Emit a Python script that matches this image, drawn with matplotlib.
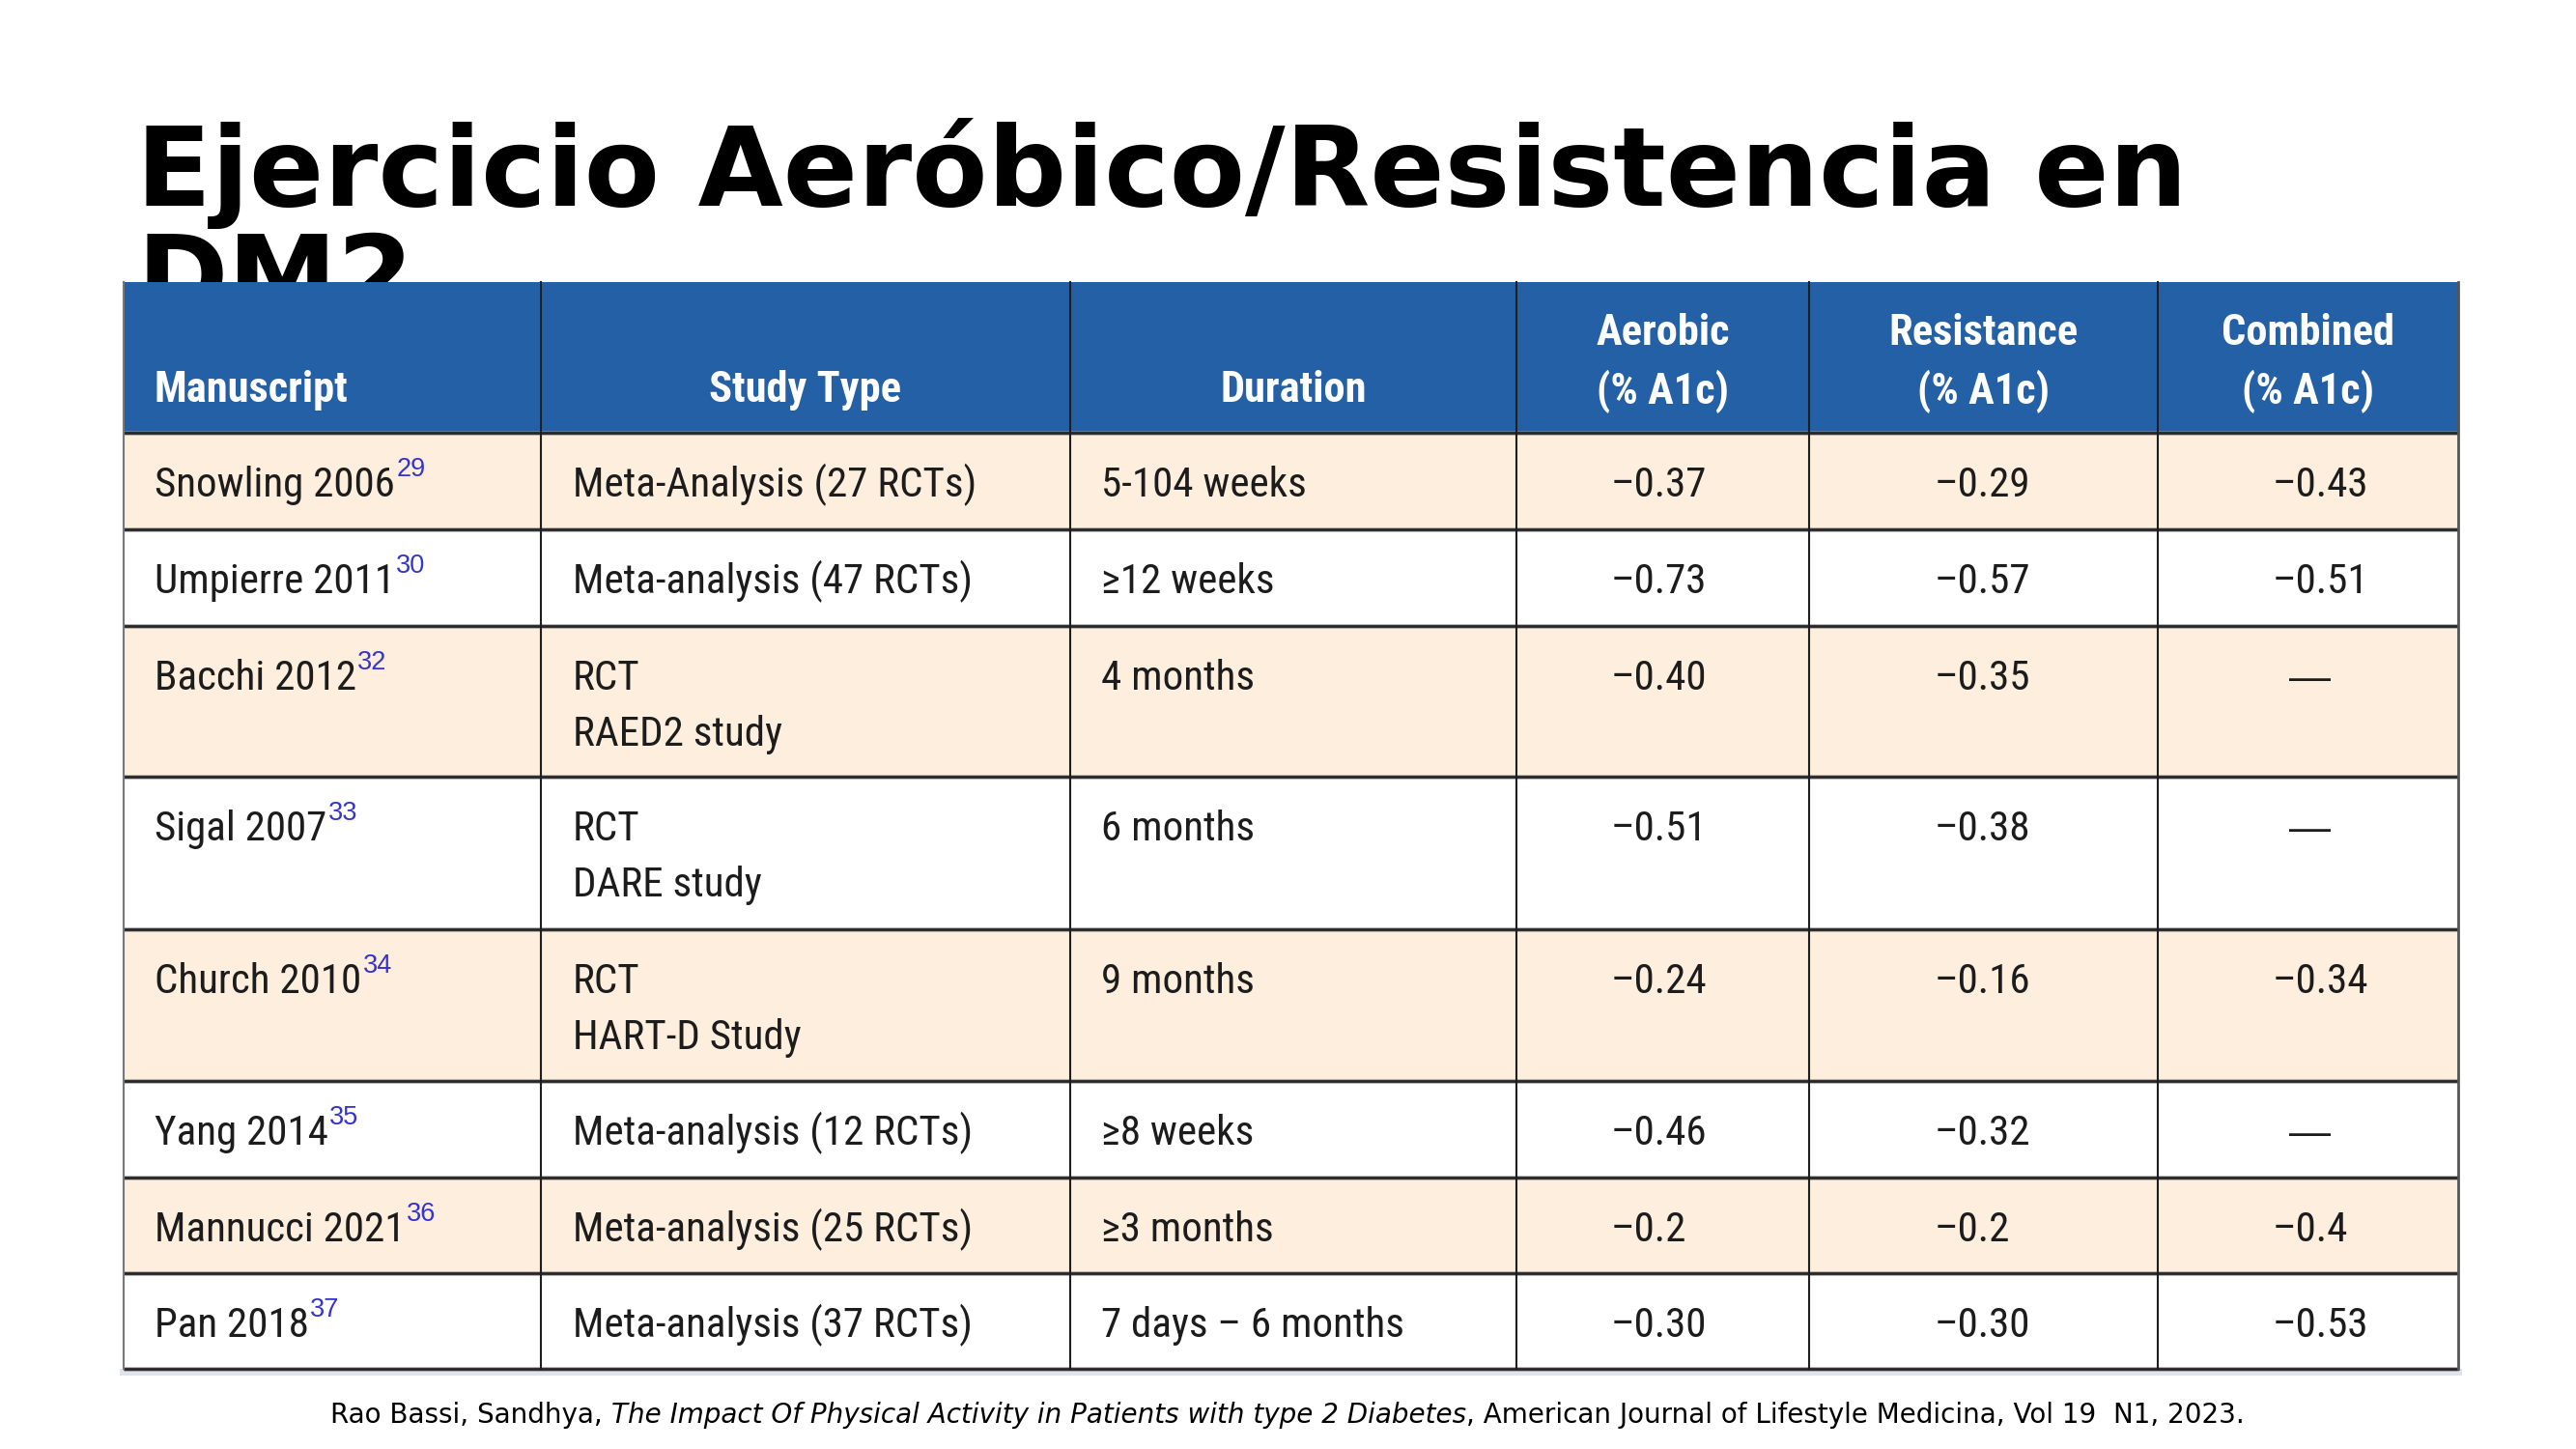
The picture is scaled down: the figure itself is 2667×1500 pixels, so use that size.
import matplotlib
matplotlib.use('Agg')
import matplotlib.pyplot as plt
from matplotlib.patches import Rectangle

# ---- table content ----
headers = ["Manuscript", "Study Type", "Duration",
           "Aerobic\n(% A1c)", "Resistance\n(% A1c)", "Combined\n(% A1c)"]
manuscripts = ["Snowling 2006", "Umpierre 2011", "Bacchi 2012", "Sigal 2007",
               "Church 2010", "Yang 2014", "Mannucci 2021", "Pan 2018"]
refs = ["29", "30", "32", "33", "34", "35", "36", "37"]
study_types = ["Meta-Analysis (27 RCTs)", "Meta-analysis (47 RCTs)",
               "RCT\nRAED2 study", "RCT\nDARE study", "RCT\nHART-D Study",
               "Meta-analysis (12 RCTs)", "Meta-analysis (25 RCTs)",
               "Meta-analysis (37 RCTs)"]
durations = ["5-104 weeks", "\u226512 weeks", "4 months", "6 months",
             "9 months", "\u22658 weeks", "\u22653 months",
             "7 days \u2013 6 months"]
# the source table prints its minus signs as en dashes
aerobic = ["\u20130.37", "\u20130.73", "\u20130.40", "\u20130.51",
           "\u20130.24", "\u20130.46", "\u20130.2", "\u20130.30"]
resistance = ["\u20130.29", "\u20130.57", "\u20130.35", "\u20130.38",
              "\u20130.16", "\u20130.32", "\u20130.2", "\u20130.30"]
combined = ["\u20130.43", "\u20130.51", "\u2014", "\u2014",
            "\u20130.34", "\u2014", "\u20130.4", "\u20130.53"]

title_lines = ["Ejercicio Aeróbico/Resistencia en", "DM2"]
cite_parts = ["Rao Bassi, Sandhya, ",
              "The Impact Of Physical Activity in Patients with type 2 Diabetes",
              ", American Journal of Lifestyle Medicina, Vol 19  N1, 2023."]

# ---- layout (pixels) ----
col_edges = [128, 560, 1108, 1570, 1873, 2234, 2545]
row_edges = [292, 448, 548, 648, 804, 962, 1119, 1219, 1318, 1417]
HEADER_BLUE = '#2360a6'
BEIGE = '#fdeedd'
TEXT = '#1c1c1c'
SUP = '#3535cc'
body_font = ['Roboto Condensed', 'Archivo Narrow', 'IBM Plex Sans Condensed',
             'Liberation Sans']
plain_font = ['Liberation Sans', 'DejaVu Sans']

fig = plt.figure(figsize=(26.67, 15), dpi=100)
ax = fig.add_axes([0, 0, 1, 1])
ax.set_xlim(0, 2667)
ax.set_ylim(1500, 0)
ax.axis('off')

# title (sits behind the table, second line gets covered)
ax.text(141, 213, title_lines[0], fontsize=82, fontweight='bold',
        family='DejaVu Sans', va='baseline', ha='left', zorder=1)
ax.text(141, 325, title_lines[1], fontsize=82, fontweight='bold',
        family='DejaVu Sans', va='baseline', ha='left', zorder=1)

left, right = col_edges[0], col_edges[-1]
top, bottom = row_edges[0], row_edges[-1]

# soft shadow under the table
ax.add_patch(Rectangle((left - 4, bottom), right - left + 8, 7,
                       facecolor='#dfe4ee', edgecolor='none', zorder=2))

# header band
ax.add_patch(Rectangle((left, top), right - left, row_edges[1] - top,
                       facecolor=HEADER_BLUE, edgecolor='none', zorder=3))
# body rows
for i in range(len(manuscripts)):
    y0, y1 = row_edges[i + 1], row_edges[i + 2]
    fc = BEIGE if i % 2 == 0 else 'white'
    ax.add_patch(Rectangle((left, y0), right - left, y1 - y0,
                           facecolor=fc, edgecolor='none', zorder=3))

# grid lines
for y in row_edges[1:]:
    ax.plot([left, right], [y, y], color='#8a8a8a', lw=3.6, alpha=0.6,
            solid_capstyle='butt', zorder=4)
    ax.plot([left, right], [y, y], color='#262626', lw=2.0,
            solid_capstyle='butt', zorder=5)
for x in col_edges[1:-1]:
    ax.plot([x, x], [top, bottom], color='#1e1e1e', lw=1.5, zorder=5)
ax.plot([left, left], [top, bottom], color='#777777', lw=1.5, zorder=5)
ax.plot([right, right], [top, bottom], color='#555555', lw=2.0, zorder=5)

# header text
hdr_kw = dict(fontsize=32, fontweight='bold', color='white',
              family=body_font, va='baseline', zorder=6)
ax.text(160, 416, headers[0], ha='left', **hdr_kw)
for j in (1, 2):
    cx = (col_edges[j] + col_edges[j + 1]) / 2
    ax.text(cx, 416, headers[j], ha='center', **hdr_kw)
for j in (3, 4, 5):
    cx = (col_edges[j] + col_edges[j + 1]) / 2
    l1, l2 = headers[j].split('\n')
    ax.text(cx, 357, l1, ha='center', **hdr_kw)
    ax.text(cx, 418, l2, ha='center', **hdr_kw)

# body text
body_kw = dict(fontsize=31, color=TEXT, family=body_font,
               va='baseline', zorder=6)
num_left = [1668, 2003, 2353]
dash_x = [1720, 2054, 2392]
for i in range(len(manuscripts)):
    base = row_edges[i + 1] + 66
    t = ax.text(160, base, manuscripts[i], ha='left', **body_kw)
    ax.annotate(refs[i], xy=(1, 0), xycoords=t, xytext=(1.0, 21.5),
                textcoords='offset points', fontsize=19.5, color=SUP,
                family=plain_font, va='baseline', ha='left', zorder=6)
    for k, line in enumerate(study_types[i].split('\n')):
        ax.text(593, base + 58 * k, line, ha='left', **body_kw)
    ax.text(1140, base, durations[i], ha='left', **body_kw)
    for c, vals in enumerate((aerobic, resistance, combined)):
        v = vals[i]
        if v == "\u2014":
            ax.text(dash_x[c], base, v, ha='center', fontsize=31,
                    color=TEXT, family=plain_font, va='baseline', zorder=6)
        else:
            ax.text(num_left[c], base, v, ha='left', **body_kw)

# citation line with italic title
prev = ax.text(342, 1473, cite_parts[0], fontsize=20, family='DejaVu Sans',
               va='baseline', ha='left', color='black')
for k, part in enumerate(cite_parts[1:]):
    style = 'italic' if k == 0 else 'normal'
    prev = ax.annotate(part, xy=(1, 0), xycoords=prev, xytext=(0, 0),
                       textcoords='offset points', fontsize=20,
                       family='DejaVu Sans', style=style, va='bottom',
                       ha='left', color='black')

fig.savefig('out.png', dpi=100)
plt.close(fig)
